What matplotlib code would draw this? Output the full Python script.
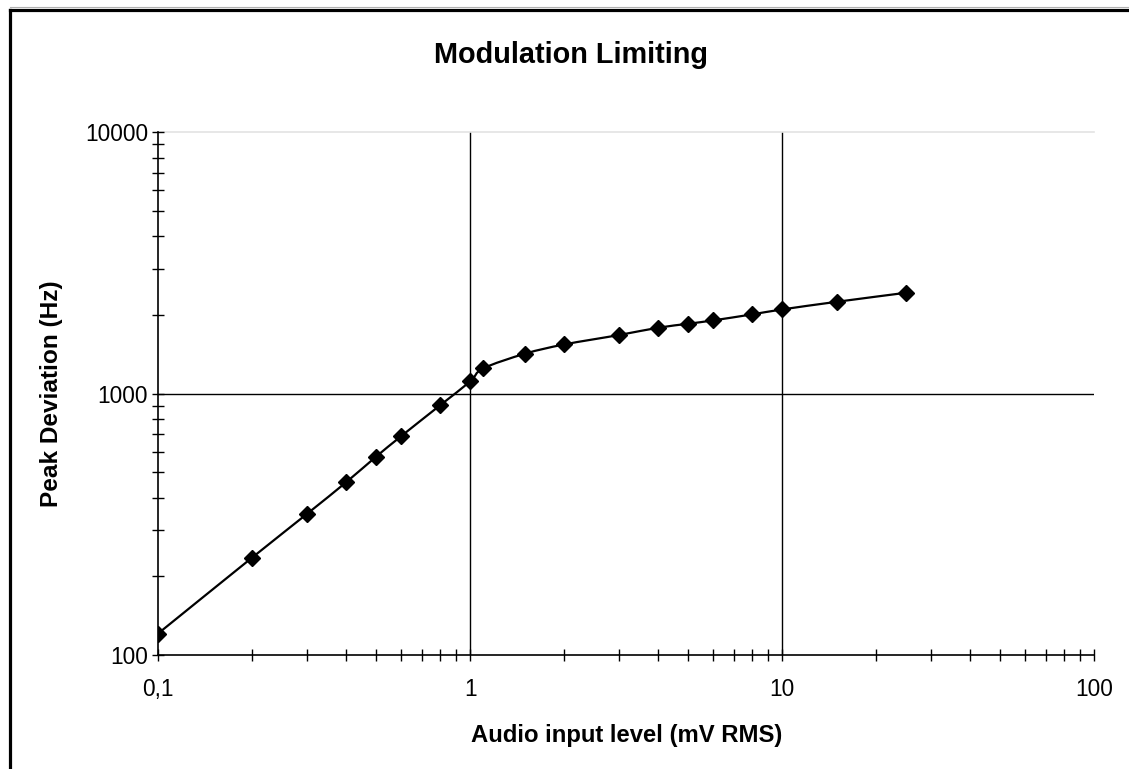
import numpy as np
import matplotlib
matplotlib.use("Agg")
import matplotlib.pyplot as plt
from matplotlib.path import Path
from matplotlib.patches import PathPatch
from matplotlib.lines import Line2D
from matplotlib.ticker import FixedLocator, FixedFormatter, LogLocator, NullFormatter

plt.rcParams['font.family'] = ['Liberation Sans', 'DejaVu Sans']

# audio input level (mV RMS) and measured peak deviation (Hz)
level_mv = [0.1, 0.2, 0.3, 0.4, 0.5, 0.6, 0.8, 1, 1.1, 1.5, 2, 3, 4, 5, 6, 8, 10, 15, 25]
deviation_hz = [121, 236, 347, 458, 575, 687, 902, 1114, 1249, 1423, 1543, 1677,
                1788, 1852, 1907, 2011, 2101, 2248, 2434]

x_ticks = [0.1, 1, 10, 100]
x_ticklabels = ['0,1', '1', '10', '100']
y_ticks = [100, 1000, 10000]
y_ticklabels = ['100', '1000', '10000']


def smooth_path(xs, ys):
    # excel-style smoothed line: cubic bezier segments built in log space
    lx = np.log10(xs)
    ly = np.log10(ys)
    n = len(lx)
    verts = [(lx[0], ly[0])]
    codes = [Path.MOVETO]
    for i in range(n - 1):
        p0 = (lx[max(i - 1, 0)], ly[max(i - 1, 0)])
        p1 = (lx[i], ly[i])
        p2 = (lx[i + 1], ly[i + 1])
        p3 = (lx[min(i + 2, n - 1)], ly[min(i + 2, n - 1)])
        c1 = (p1[0] + (p2[0] - p0[0]) / 6, p1[1] + (p2[1] - p0[1]) / 6)
        c2 = (p2[0] - (p3[0] - p1[0]) / 6, p2[1] - (p3[1] - p1[1]) / 6)
        verts += [c1, c2, p2]
        codes += [Path.CURVE4] * 3
    verts = np.power(10.0, np.array(verts))
    return Path(verts, codes)


fig = plt.figure(figsize=(11.29, 7.69), dpi=100)
ax = fig.add_axes([0.140, 0.148, 0.8293, 0.680])

ax.set_xscale('log')
ax.set_yscale('log')
ax.set_xlim(0.1, 100)
ax.set_ylim(100, 10000)

# major gridlines
for gx in [1, 10]:
    ax.axvline(gx, color='black', lw=1.0, zorder=1)
ax.axhline(1000, color='black', lw=1.0, zorder=1)
ax.axhline(10000, color='#e3e3e3', lw=1.2, zorder=1, clip_on=False)

ax.add_patch(PathPatch(smooth_path(level_mv, deviation_hz), fill=False,
                       edgecolor='black', lw=1.6, zorder=3))
ax.plot(level_mv, deviation_hz, linestyle='none', marker='D', markersize=7.8,
        color='black', zorder=4)

for side in ['top', 'right']:
    ax.spines[side].set_visible(False)
for side in ['left', 'bottom']:
    ax.spines[side].set_linewidth(1.2)

ax.xaxis.set_major_locator(FixedLocator(x_ticks))
ax.xaxis.set_major_formatter(FixedFormatter(x_ticklabels))
ax.yaxis.set_major_locator(FixedLocator(y_ticks))
ax.yaxis.set_major_formatter(FixedFormatter(y_ticklabels))
ax.xaxis.set_minor_locator(LogLocator(base=10, subs=np.arange(2, 10)))
ax.yaxis.set_minor_locator(LogLocator(base=10, subs=np.arange(2, 10)))
ax.xaxis.set_minor_formatter(NullFormatter())
ax.yaxis.set_minor_formatter(NullFormatter())

ax.tick_params(which='both', direction='inout', length=8.5, width=1.0, color='black')
ax.tick_params(axis='x', which='major', labelsize=16.3, pad=12)
ax.tick_params(axis='y', which='major', labelsize=16.3, pad=3)

ax.set_xlabel('Audio input level (mV RMS)', fontsize=17.2, fontweight='bold', labelpad=17)
ax.set_ylabel('Peak Deviation (Hz)', fontsize=17.6, fontweight='bold', labelpad=16)

fig.text(0.506, 0.928, 'Modulation Limiting', ha='center', va='center',
         fontsize=20.8, fontweight='bold')

# chart border along the left and top edges
fx = 9.5 / 1129
fy = 1 - 9.5 / 769
fig.add_artist(Line2D([fx, fx], [0, fy], transform=fig.transFigure, color='black', lw=2.3))
fig.add_artist(Line2D([fx, 1], [fy, fy], transform=fig.transFigure, color='black', lw=2.3))
fig.add_artist(Line2D([fx, 1], [fy + 2.5 / 769, fy + 2.5 / 769], transform=fig.transFigure,
                      color='#b0b0b0', lw=0.8))

fig.savefig('out.png', dpi=100)
